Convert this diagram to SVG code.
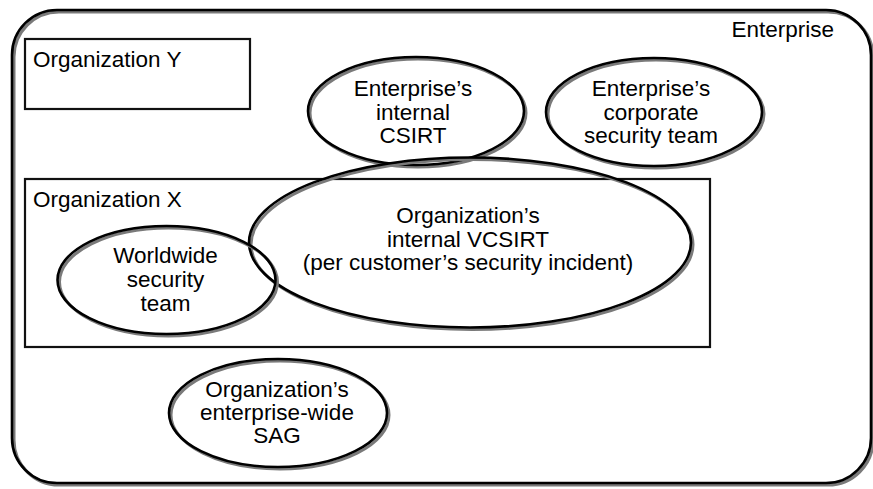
<svg xmlns="http://www.w3.org/2000/svg" width="873" height="489" viewBox="0 0 873 489">
<style>
.sh{fill:none;stroke:#7a7a7a;stroke-width:3}
.ln{fill:none;stroke:#000;stroke-width:2.6}
.bx{fill:none;stroke:#111;stroke-width:2.2}
text{font-family:"Liberation Sans",Arial,Helvetica,sans-serif;font-size:22.5px;fill:#000}
.c{text-anchor:middle}
</style>
<rect width="873" height="489" fill="#fff"/>
<g id="enterprise">
<rect class="sh" x="14" y="12" width="859" height="473" rx="45" ry="45"/>
<rect class="ln" x="12" y="10" width="859" height="473" rx="45" ry="45"/>
<text x="834" y="37" text-anchor="end">Enterprise</text>
</g>
<g id="org-y">
<rect class="bx" x="25" y="39" width="225" height="70"/>
<text x="33" y="67">Organization Y</text>
</g>
<g id="org-x">
<rect class="bx" x="25" y="179" width="685" height="168"/>
<text x="33" y="207">Organization X</text>
</g>
<g id="internal-csirt">
<ellipse class="sh" cx="418" cy="113" rx="108" ry="54"/>
<ellipse class="ln" cx="416" cy="111" rx="108" ry="54"/>
<text class="c" x="413" y="96">Enterprise’s</text>
<text class="c" x="413" y="120">internal</text>
<text class="c" x="413" y="143">CSIRT</text>
</g>
<g id="corporate-security">
<ellipse class="sh" cx="656" cy="114" rx="108" ry="54"/>
<ellipse class="ln" cx="654" cy="112" rx="108" ry="54"/>
<text class="c" x="651" y="96">Enterprise’s</text>
<text class="c" x="651" y="120">corporate</text>
<text class="c" x="651" y="143">security team</text>
</g>
<g id="vcsirt">
<ellipse class="sh" cx="472" cy="244.5" rx="221" ry="85"/>
<ellipse class="ln" cx="470" cy="242.5" rx="221" ry="85"/>
<text class="c" x="468" y="223">Organization’s</text>
<text class="c" x="468" y="247">internal VCSIRT</text>
<text class="c" x="468" y="270">(per customer’s security incident)</text>
</g>
<g id="worldwide-security">
<ellipse class="sh" cx="168.5" cy="282" rx="109" ry="54"/>
<ellipse class="ln" cx="166.5" cy="280" rx="109" ry="54"/>
<text class="c" x="165.5" y="263">Worldwide</text>
<text class="c" x="165.5" y="287">security</text>
<text class="c" x="165.5" y="311">team</text>
</g>
<g id="sag">
<ellipse class="sh" cx="280" cy="415" rx="109" ry="54"/>
<ellipse class="ln" cx="278" cy="413" rx="109" ry="54"/>
<text class="c" x="277" y="397">Organization’s</text>
<text class="c" x="277" y="420">enterprise-wide</text>
<text class="c" x="277" y="443">SAG</text>
</g>
</svg>
